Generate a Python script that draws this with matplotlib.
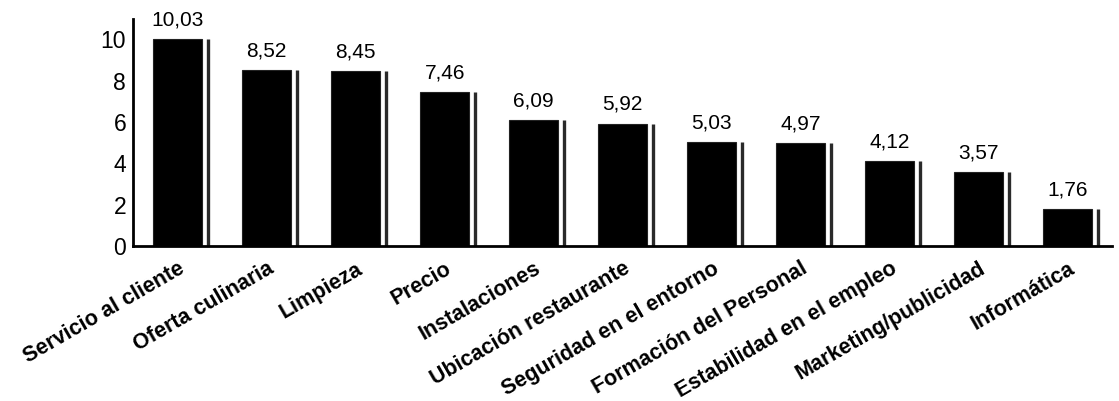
import numpy as np
import matplotlib.pyplot as plt

plt.rcParams['font.family'] = ['Liberation Sans', 'DejaVu Sans']

categorias = ['Servicio al cliente', 'Oferta culinaria', 'Limpieza', 'Precio',
              'Instalaciones', 'Ubicación restaurante', 'Seguridad en el entorno',
              'Formación del Personal', 'Estabilidad en el empleo',
              'Marketing/publicidad', 'Informática']
valores = [10.03, 8.52, 8.45, 7.46, 6.09, 5.92, 5.03, 4.97, 4.12, 3.57, 1.76]
etiquetas = ['10,03', '8,52', '8,45', '7,46', '6,09', '5,92', '5,03', '4,97',
             '4,12', '3,57', '1,76']
yticks = [0, 2, 4, 6, 8, 10]

fig = plt.figure(figsize=(11.19, 4.01), dpi=100)
ax = fig.add_axes([0.119, 0.387, 0.875, 0.566])

x = np.arange(len(categorias))
bars = ax.bar(x, valores, width=0.55, color='black', edgecolor='#222222', linewidth=0.8)
# thin shadow edge on the right of each bar
ax.vlines(x + 0.34, 0, valores, color='#2a2a2a', linewidth=2.4)

for xi, v, t in zip(x, valores, etiquetas):
    ax.annotate(t, (xi, v), xytext=(0, 7), textcoords='offset points',
                ha='center', va='bottom', fontsize=15)

ax.set_xlim(-0.5, 10.5)
ax.set_ylim(0, 11)
ax.set_yticks(yticks)
ax.set_yticklabels([str(t) for t in yticks], fontsize=16.5)
ax.set_xticks(x)
ax.set_xticklabels(categorias, rotation=30, ha='right', rotation_mode='anchor',
                   fontsize=15.5, fontweight='bold')
ax.tick_params(axis='y', length=0, pad=5)
ax.tick_params(axis='x', length=0, pad=9)

for s in ['top', 'right']:
    ax.spines[s].set_visible(False)
for s in ['left', 'bottom']:
    ax.spines[s].set_linewidth(2)

fig.savefig('out.png', dpi=100)
